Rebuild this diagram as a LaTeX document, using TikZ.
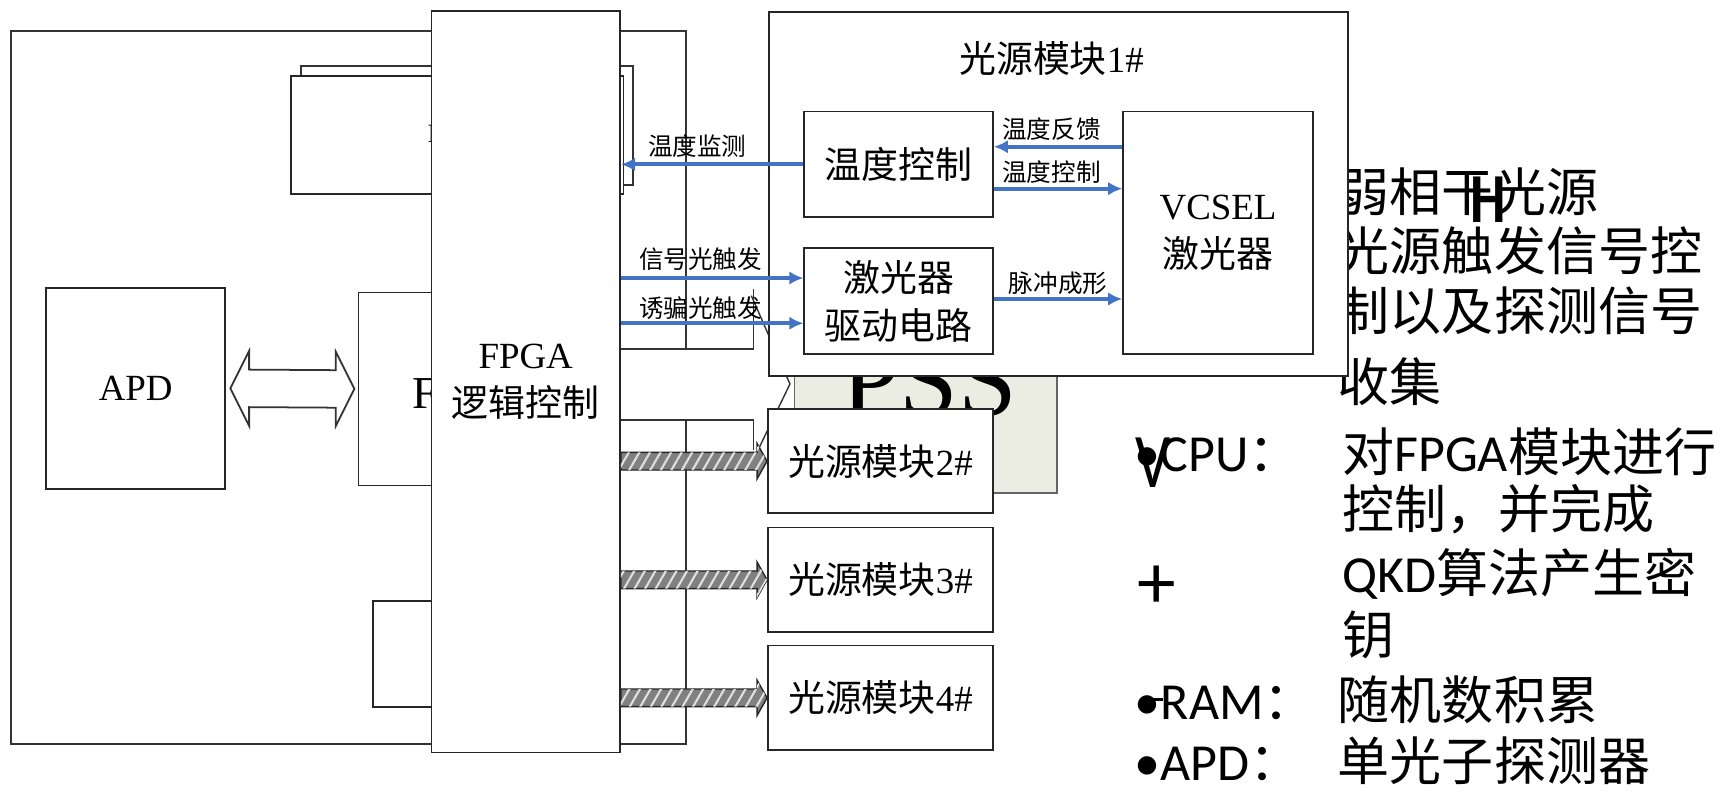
\documentclass[tikz,border=0pt]{standalone}
\usepackage{fontspec}
\setmainfont{Liberation Serif}
\newfontfamily\cjk{Noto Sans CJK SC}
\newfontfamily\calib{Carlito}
\usepackage{tikz}
\usetikzlibrary{arrows.meta,positioning,fit,calc,patterns.meta}

\definecolor{sigblue}{RGB}{68,114,196}
\definecolor{pssgray}{RGB}{235,237,226}

% hatched bus arrow from #1 to tip #2
\newcommand\bararrow[2]{%
  \draw[hatched] ($(#1)+(0,-8)$) -- ($(#2)+(-9,-8)$) -- ($(#2)+(-9,-16)$) -- (#2)
    -- ($(#2)+(-9,16)$) -- ($(#2)+(-9,8)$) -- ($(#1)+(0,8)$) -- cycle;}

\begin{document}
\begin{tikzpicture}[x=0.011033cm, y=-0.011033cm,
  box/.style={draw=black!85, line width=0.5pt, fill=white, inner sep=0pt},
  boxtxt/.style={inner sep=0pt, align=center, font=\fontsize{10.5}{13.8}\selectfont},
  thinline/.style={draw=black!80, line width=0.5pt},
  sig/.style={draw=sigblue, line width=1.1pt, -{Latex[length=4pt,width=3.8pt]}},
  lbl/.style={font=\cjk\fontsize{7}{8}\selectfont, inner sep=0pt},
  hatched/.style={draw=black!85, line width=0.4pt, fill=black!50,
    postaction={pattern={Lines[angle=60,distance=2.6pt,line width=0.6pt]}, pattern color=black!12}},
  rtext/.style={font=\calib\fontsize{14.8}{17}\selectfont, anchor=base west, inner sep=0pt}
]
\useasboundingbox[fill=white] (0,0) rectangle (1568,718);

% board outline
\draw[thinline] (622,316) -- (622,28) -- (10,28) -- (10,674) -- (622,674) -- (622,381);
\draw[thinline] (683,262) -- (683,316) -- (562,316);
\draw[thinline] (562,381) -- (683,381) -- (683,408);

% stacked card
\draw[thinline, fill=white] (273,60) rectangle (574,168);
\node[box, fit={(264,69) (565,176)}] (card) {};
\node[inner sep=0pt, anchor=base west, font=\fontsize{7.5}{9}\selectfont] (cardtxt) at (387,129) {I};

\node[box, fit={(42,261) (204,443)}, label={[boxtxt]center:APD}] (apd) {};
\node[box, fit={(325,265) (420,440)}] (fbox) {};
\node[inner sep=0pt, anchor=base west, font=\fontsize{13}{15}\selectfont] (ftxt) at (373,370) {F};
\node[box, fit={(338,545) (420,641)}] (lowbox) {};

% double arrow
\coordinate (dl) at ($(apd.east)+(4,0)$);
\coordinate (dr) at ($(fbox.west)+(-3,0)$);
\draw[thinline, fill=white] (dl) -- ++(17,-34) -- ++(0,17) -- ($(dr)+(-17,-17)$) -- ++(0,-17) -- (dr)
  -- ++(-17,34) -- ++(0,-17) -- ($(dl)+(17,17)$) -- ++(0,17) -- cycle;

\node[box, fit={(391,10) (562,682)}, label={[boxtxt]center:FPGA\\{\cjk 逻辑控制}}] (fpga) {};

% notes on the right
\node[rtext] (n1) at (1212,192) {{\cjk 弱相干光源}};
\node[rtext] (n2) at (1212,245) {{\cjk 光源触发信号控}};
\node[rtext] (n3) at (1212,300) {{\cjk 制以及探测信号}};
\node[rtext] (n4) at (1212,364) {{\cjk 收集}};
\node[rtext] (n5) at (1216,427) {{\cjk 对}FPGA{\cjk 模块进行}};
\node[rtext] (n6) at (1216,479) {{\cjk 控制，并完成}};
\node[rtext] (n7) at (1216,537) {QKD{\cjk 算法产生密}};
\node[rtext] (n8) at (1216,593) {{\cjk 钥}};
\node[rtext] (n9) at (1212,652) {{\cjk 随机数积累}};
\node[rtext] (n10) at (1212,707) {{\cjk 单光子探测器}};
\node[font=\calib\bfseries\fontsize{20}{22}\selectfont, inner sep=0pt, xscale=0.8] (hmark) at (1349,181) {H};
\node[rtext] (bcpu) at (1028,427) {•CPU{\cjk ：}};
\node[font=\calib\fontsize{22}{24}\selectfont, inner sep=0pt, xscale=0.8] (vmark) at (1045,419) {V};
\node[font=\calib\fontsize{22}{24}\selectfont, inner sep=0pt] (plus) at (1048,532) {+};
\node[rtext] (bram) at (1028,652) {•RAM{\cjk ：}};
\draw[line width=1.1pt] (1036,634) -- (1054,634);
\node[rtext] (bapd) at (1028,707) {•APD{\cjk ：}};

% hidden outline and PSS
\draw[thinline, line width=0.4pt] (681,268) -- (716,348) -- (687,408);
\node[fit={(720,300) (958,447)}, inner sep=0pt, draw=black!60, fill=pssgray] (pss) {};
\node[inner sep=0pt, anchor=base, font=\fontsize{30}{32}\selectfont] (psstxt) at (842,377) {PSS};

% light source module 1#
\node[box, fit={(697,11) (1222,341)}] (mod1) {};
\node[boxtxt] (mod1t) at (953,53) {{\cjk 光源模块}1\#};
\node[box, fit={(729,101) (900,197)}, label={[boxtxt]center:{\cjk 温度控制}}] (tctl) {};
\node[box, fit={(729,225) (900,321)}, label={[boxtxt]center:{\cjk 激光器}\\{\cjk 驱动电路}}] (drv) {};
\node[box, fit={(1018,101) (1190,321)}, label={[boxtxt]center:VCSEL\\{\cjk 激光器}}] (vcsel) {};

\draw[sig] (tctl.west) -- (tctl.west -| fpga.east);
\draw[sig] (vcsel.west |- 0,133) -- (tctl.east |- 0,133);
\draw[sig] (tctl.east |- 0,171) -- (vcsel.west |- 0,171);
\draw[sig] (fpga.east |- 0,252) -- (drv.west |- 0,252);
\draw[sig] (fpga.east |- 0,293) -- (drv.west |- 0,293);
\draw[sig] (drv.east |- 0,271) -- (vcsel.west |- 0,271);
\node[lbl] (lmon) at (632,132) {温度监测};
\node[lbl] (lfb) at (953,117) {温度反馈};
\node[lbl] (lctl) at (953,156) {温度控制};
\node[lbl] (lsig) at (635,235) {信号光触发};
\node[lbl] (ldec) at (635,279) {诱骗光触发};
\node[lbl] (lpulse) at (959,257) {脉冲成形};

% light source modules 2#-4#
\node[box, fit={(696,371) (900,465)}, label={[boxtxt]center:{\cjk 光源模块}2\#}] (mod2) {};
\node[box, fit={(696,478) (900,573)}, label={[boxtxt]center:{\cjk 光源模块}3\#}] (mod3) {};
\node[box, fit={(696,585) (900,680)}, label={[boxtxt]center:{\cjk 光源模块}4\#}] (mod4) {};
\bararrow{fpga.east |- mod2.west}{mod2.west}
\bararrow{fpga.east |- mod3.west}{mod3.west}
\bararrow{fpga.east |- mod4.west}{mod4.west}
\end{tikzpicture}
\end{document}
